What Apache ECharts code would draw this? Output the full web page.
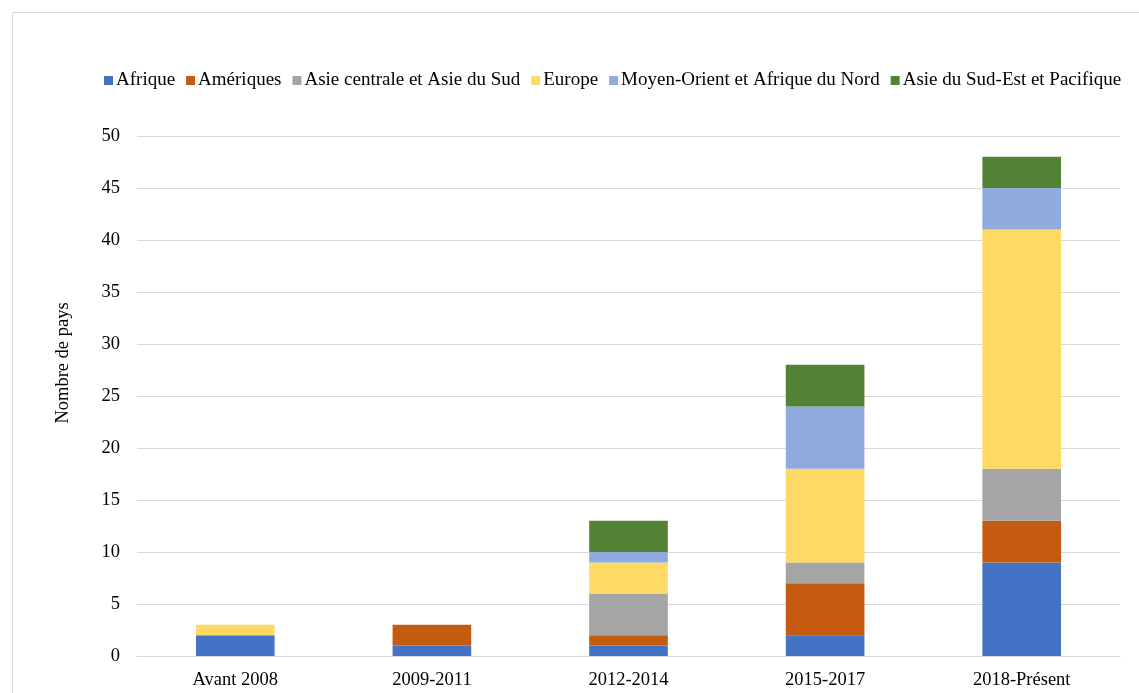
<!DOCTYPE html>
<html>
<head>
<meta charset="utf-8">
<script src="https://cdn.jsdelivr.net/npm/echarts@6/dist/echarts.min.js"></script>
<style>
  html, body { margin: 0; padding: 0; background: #fff; }
  #chart { width: 1139px; height: 693px; }
</style>
</head>
<body>
<div id="chart"></div>
<script>
// Périodes d'adoption
const categories = ['Avant 2008', '2009-2011', '2012-2014', '2015-2017', '2018-Présent'];

// Nombre de pays par région
const afrique = [2, 1, 1, 2, 9];
const ameriques = [0, 2, 1, 5, 4];
const asieCentraleSud = [0, 0, 4, 2, 5];
const europe = [1, 0, 3, 9, 23];
const moyenOrient = [0, 0, 1, 6, 4];
const asieSudEst = [0, 0, 3, 4, 3];

const regions = [
  { name: 'Afrique', data: afrique, color: '#4472c4' },
  { name: 'Amériques', data: ameriques, color: '#c55a11' },
  { name: 'Asie centrale et Asie du Sud', data: asieCentraleSud, color: '#a5a5a5' },
  { name: 'Europe', data: europe, color: '#ffd966' },
  { name: 'Moyen-Orient et Afrique du Nord', data: moyenOrient, color: '#8faadc' },
  { name: 'Asie du Sud-Est et Pacifique', data: asieSudEst, color: '#548235' }
];

const font = '"Liberation Serif", "Times New Roman", serif';
const fs = 18.5;

const chart = echarts.init(document.getElementById('chart'));
chart.setOption({
  backgroundColor: '#fff',
  animation: false,
  textStyle: { fontFamily: font },
  graphic: [{
    type: 'rect',
    shape: { x: 12.5, y: 12.5, width: 1140, height: 700 },
    style: { fill: 'none', stroke: '#d9d9d9', lineWidth: 1 },
    silent: true
  }],
  legend: {
    top: 66,
    left: 99,
    itemWidth: 9,
    itemHeight: 9,
    itemGap: 11,
    icon: 'rect',
    textStyle: { fontFamily: font, fontSize: 19, color: '#000', padding: [0, 0, 0, -2] },
    data: regions.map(r => r.name)
  },
  grid: { left: 137, right: 19, top: 136, bottom: 37, containLabel: false },
  xAxis: {
    type: 'category',
    data: categories,
    axisLine: { show: true, lineStyle: { color: '#d9d9d9', width: 1 } },
    axisTick: { show: false },
    axisLabel: { color: '#000', fontFamily: font, fontSize: fs, margin: 15 }
  },
  yAxis: {
    type: 'value',
    min: 0,
    max: 50,
    interval: 5,
    name: 'Nombre de pays',
    nameLocation: 'middle',
    nameGap: 64,
    nameRotate: 90,
    nameTextStyle: { color: '#000', fontFamily: font, fontSize: fs, padding: [0, 0, 0, 66] },
    axisLine: { show: false },
    axisTick: { show: false },
    axisLabel: { color: '#000', fontFamily: font, fontSize: fs, margin: 17 },
    splitLine: { lineStyle: { color: '#d9d9d9', width: 1 } }
  },
  series: regions.map(r => ({
    name: r.name,
    type: 'bar',
    stack: 'total',
    barWidth: '40%',
    data: r.data,
    itemStyle: { color: r.color },
    emphasis: { disabled: true }
  }))
});
</script>
</body>
</html>
